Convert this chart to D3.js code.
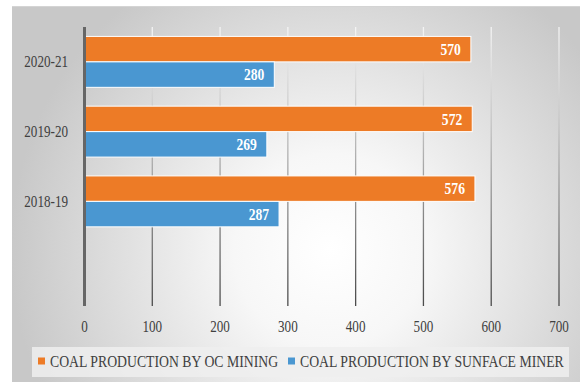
<!DOCTYPE html>
<html>
<head>
<meta charset="utf-8">
<script src="https://cdn.jsdelivr.net/npm/d3@7"></script>
<style>
  body { margin: 0; background: #fff; }
  text { font-family: "Liberation Serif", "DejaVu Serif", serif; }
</style>
</head>
<body>
<script>
// categories top to bottom, last one is an empty slot
const years = ["2020-21", "2019-20", "2018-19", ""];
const ocMining = [570, 572, 576];
const surfaceMiner = [280, 269, 287];
const seriesNames = ["COAL PRODUCTION BY OC MINING", "COAL PRODUCTION BY SUNFACE MINER"];
const xTicks = [0, 100, 200, 300, 400, 500, 600, 700];
const colors = ["#ED7B26", "#4A97D1"];

const width = 580, height = 383;

const svg = d3.select("body").append("svg")
    .attr("width", width)
    .attr("height", height);

// place a condensed label: the reference text is narrow
function label(sel, px, py, s) {
    return sel.attr("transform", (d, i) => `translate(${px(d, i)},${py(d, i)}) scale(${s},1)`);
}

const defs = svg.append("defs");
const bg = defs.append("radialGradient")
    .attr("id", "bg")
    .attr("gradientUnits", "userSpaceOnUse")
    .attr("cx", 330).attr("cy", 250).attr("r", 320);
bg.append("stop").attr("offset", "0").attr("stop-color", "#ffffff");
bg.append("stop").attr("offset", "0.3").attr("stop-color", "#f7f7f7");
bg.append("stop").attr("offset", "1").attr("stop-color", "#c8c8c8");

const gridGrad = defs.append("linearGradient")
    .attr("id", "gridGrad")
    .attr("gradientUnits", "userSpaceOnUse")
    .attr("x1", 0).attr("x2", 0).attr("y1", 27).attr("y2", 306);
gridGrad.append("stop").attr("offset", "0").attr("stop-color", "#f4f4f4");
gridGrad.append("stop").attr("offset", "0.35").attr("stop-color", "#c4c4c4");
gridGrad.append("stop").attr("offset", "1").attr("stop-color", "#4a4a4a");

// panel
svg.append("rect")
    .attr("x", 12).attr("y", 6)
    .attr("width", width - 12).attr("height", 376)
    .attr("fill", "url(#bg)");
svg.append("line")
    .attr("x1", 12).attr("x2", width)
    .attr("y1", 6.5).attr("y2", 6.5)
    .attr("stroke", "#d4d4d4");

const x = d3.scaleLinear().domain([0, 700]).range([84.5, 559]);
const y = d3.scaleBand().domain(years).range([27, 306]).paddingInner(0.27).paddingOuter(0.135);
const y1 = d3.scaleBand().domain([0, 1]).range([0, y.bandwidth()]);

// gridlines
svg.append("g")
    .selectAll("line")
    .data(xTicks.slice(1))
    .join("line")
    .attr("x1", d => x(d)).attr("x2", d => x(d))
    .attr("y1", 27).attr("y2", 306)
    .attr("stroke", "url(#gridGrad)")
    .attr("stroke-width", 1.3);

// bars
const groups = svg.append("g")
    .selectAll("g")
    .data(years.slice(0, 3))
    .join("g")
    .attr("transform", d => `translate(0,${y(d)})`);

groups.each(function(year, i) {
    const vals = [ocMining[i], surfaceMiner[i]];
    const g = d3.select(this);
    g.selectAll("rect")
        .data(vals)
        .join("rect")
        .attr("x", x(0))
        .attr("y", (d, j) => y1(j))
        .attr("width", d => x(d) - x(0))
        .attr("height", y1.bandwidth())
        .attr("fill", (d, j) => colors[j])
        .attr("stroke", "#fff")
        .attr("stroke-width", 1);
    g.selectAll("text")
        .data(vals)
        .join("text")
        .call(label, d => x(d) - 10, (d, j) => y1(j) + y1.bandwidth() / 2, 0.85)
        .attr("dy", "0.35em")
        .attr("text-anchor", "end")
        .attr("fill", "#fff")
        .attr("font-weight", "bold")
        .attr("font-size", 16)
        .text(d => d);
});

// category axis line
svg.append("line")
    .attr("x1", x(0)).attr("x2", x(0))
    .attr("y1", 27).attr("y2", 306)
    .attr("stroke", "#666")
    .attr("stroke-width", 3);

// category labels
svg.append("g")
    .selectAll("text")
    .data(years)
    .join("text")
    .call(label, () => 68, d => y(d) + y.bandwidth() / 2, 0.82)
    .attr("dy", "0.35em")
    .attr("text-anchor", "end")
    .attr("font-size", 16)
    .attr("fill", "#404040")
    .text(d => d);

// value axis labels
svg.append("g")
    .selectAll("text")
    .data(xTicks)
    .join("text")
    .call(label, d => x(d), () => 326, 0.82)
    .attr("dy", "0.35em")
    .attr("text-anchor", "middle")
    .attr("font-size", 16)
    .attr("fill", "#404040")
    .text(d => d);

// legend
svg.append("rect")
    .attr("x", 32).attr("y", 347)
    .attr("width", 537).attr("height", 30)
    .attr("fill", "#efefef")
    .attr("opacity", 0.85);

const legendX = [38, 288];
const legend = svg.append("g")
    .selectAll("g")
    .data(seriesNames)
    .join("g")
    .attr("transform", (d, i) => `translate(${legendX[i]},361)`);
legend.append("rect")
    .attr("x", 0).attr("y", -3.5)
    .attr("width", 7).attr("height", 7)
    .attr("fill", (d, i) => colors[i]);
legend.append("text")
    .call(label, () => 12, () => 0, 0.86)
    .attr("dy", "0.35em")
    .attr("font-size", 16)
    .attr("fill", "#404040")
    .text(d => d);
</script>
</body>
</html>
